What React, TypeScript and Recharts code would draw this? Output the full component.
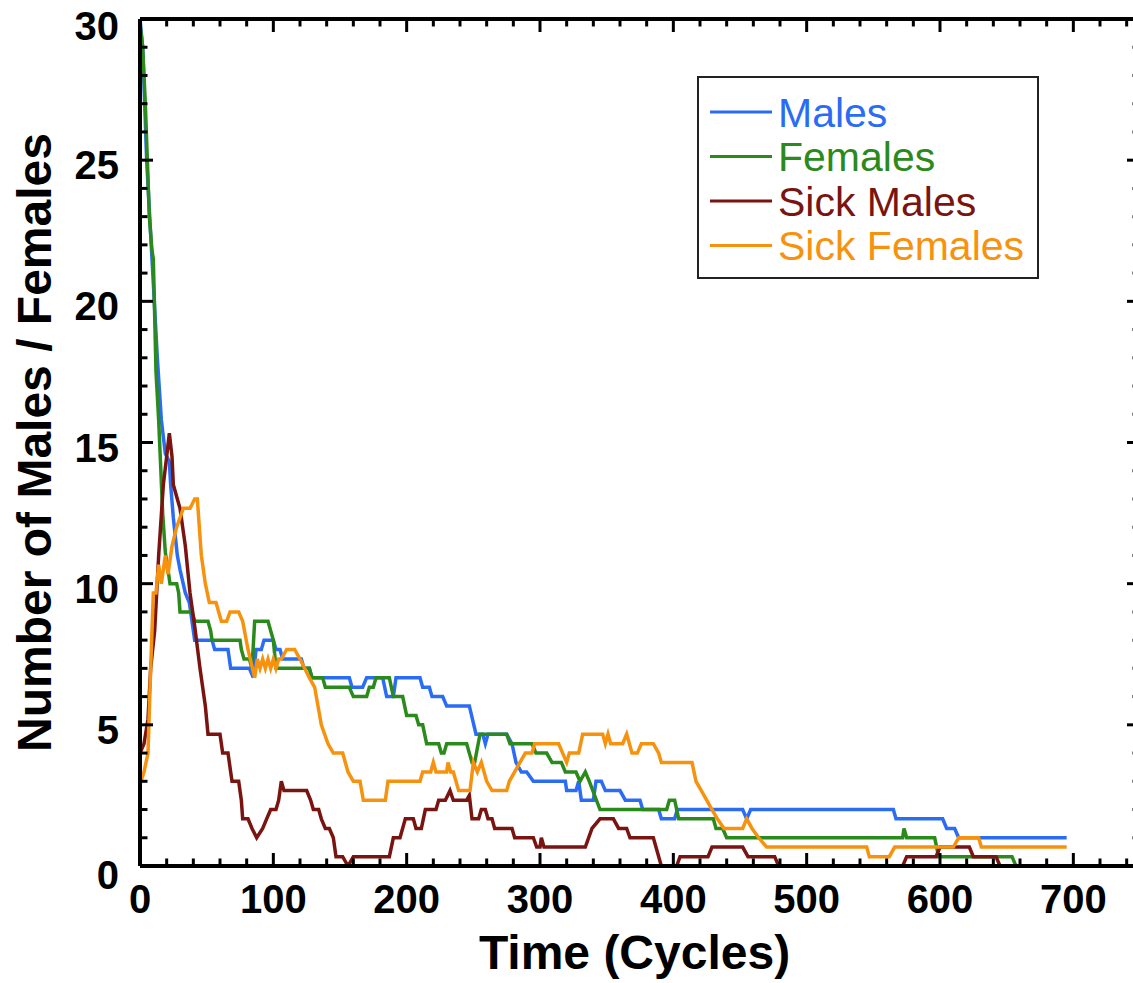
import React from 'react';
import { LineChart, Line, XAxis, YAxis, Legend, Label } from 'recharts';

const FONT = '"Liberation Sans", Arial, Helvetica, sans-serif';

const xTicks = [0, 20, 40, 60, 80, 100, 120, 140, 160, 180, 200, 220, 240, 260, 280, 300, 320, 340, 360, 380, 400, 420, 440, 460, 480, 500, 520, 540, 560, 580, 600, 620, 640, 660, 680, 700, 720, 740];
const xLabels = [0, 100, 200, 300, 400, 500, 600, 700];
const yTicks = [0, 1, 2, 3, 4, 5, 6, 7, 8, 9, 10, 11, 12, 13, 14, 15, 16, 17, 18, 19, 20, 21, 22, 23, 24, 25, 26, 27, 28, 29, 30];
const yLabels = [0, 5, 10, 15, 20, 25, 30];

type Pt = [number, number];

const males: Pt[] = [
  [0, 30], [2, 29], [5, 25], [9, 21.5], [13, 18], [16, 15.8], [19, 14.6], [22, 14.33], [23, 13.5], [25, 12.33], [28, 11], [30, 10.5], [34, 9.67], [37, 9.33], [40, 8.33], [41, 8], [54, 8], [56, 7.67], [66, 7.67], [68, 7], [82, 7], [85, 6.67], [87, 7.67], [91, 7.67], [93, 8], [100, 8], [102, 7.67], [105, 7.67], [107, 7.33], [121, 7.33], [123, 7], [127, 7], [129, 6.67], [157, 6.67], [159, 6.33], [167, 6.33], [170, 6.67], [182, 6.67], [185, 6], [190, 6], [192, 6.67], [210, 6.67], [212, 6.33], [217, 6.33], [219, 6], [227, 6], [230, 5.67], [247, 5.67], [252, 4.67], [257, 4.67], [259, 4.33], [261, 4.67], [275, 4.67], [279, 4.33], [282, 3.67], [286, 3.33], [290, 3.33], [295, 3], [319, 3], [320, 2.67], [327, 2.67], [329, 3], [331, 2.33], [340, 2.33], [342, 3], [346, 3], [349, 2.67], [360, 2.67], [364, 2.33], [375, 2.33], [377, 2], [389, 2], [391, 1.67], [401, 1.67], [403, 2], [452, 2], [455, 1.67], [458, 2], [565, 2], [567, 1.67], [602, 1.67], [605, 1.33], [611, 1.33], [614, 1], [695, 1],
];

const females: Pt[] = [
  [0, 29.8], [2, 29], [4, 27], [7, 23], [9, 21.8], [10, 21.5], [12, 17.5], [14, 15.8], [17, 12.5], [19, 11.1], [21, 10.5], [22.5, 10], [27.5, 10], [29, 9.67], [30, 9], [39, 9], [41, 8.67], [51, 8.67], [53, 8.33], [54, 8], [75, 8], [76, 7.67], [78, 7.33], [82, 7.33], [84, 7], [86, 8.67], [96, 8.67], [98, 8.33], [100, 8], [102, 7], [127, 7], [129, 6.67], [137, 6.67], [139, 6.33], [157, 6.33], [160, 6], [170, 6], [172, 6.33], [175, 6.33], [177, 6.67], [187, 6.67], [190, 6], [197, 6], [200, 5.33], [207, 5.33], [209, 5], [212, 5], [215, 4.33], [224, 4.33], [226, 4], [228, 4], [230, 4.33], [245, 4.33], [249, 3.67], [251, 3.67], [255, 4.67], [275, 4.67], [277.5, 4.33], [294, 4.33], [297, 4], [305, 4], [309, 3.67], [316, 3.67], [319, 3.33], [327, 3.33], [330, 3], [334, 3.33], [337, 3], [345, 2], [395, 2], [397, 2.33], [401, 2.33], [404, 1.67], [430, 1.67], [432, 1.33], [437, 1.33], [440, 1], [572, 1], [573, 1.33], [575, 1], [596, 1], [599, 0.33], [654, 0.33], [657, 0],
];

const sickMales: Pt[] = [
  [0, 4], [3, 4.33], [6, 5.2], [8, 7], [11, 8.33], [14, 11], [17.5, 13.5], [20, 14.5], [22, 15.33], [24, 14.5], [25, 13.5], [28, 13], [30, 12.67], [34, 11.33], [37.5, 9.67], [41, 8.5], [45, 7], [49, 5.67], [51, 4.67], [60, 4.67], [62, 4], [66, 4], [68, 3.33], [69, 3], [74, 3], [76, 2.33], [77, 1.67], [81, 1.67], [84, 1.33], [87.5, 1], [92, 1.33], [95, 1.67], [98, 2], [102, 2], [104, 2.33], [106, 3], [108, 2.67], [125, 2.67], [128, 2.33], [130, 2], [134, 2], [136, 1.67], [139, 1.33], [142, 1.33], [145, 1], [147, 0.33], [152, 0.33], [156, 0], [160, 0.33], [187, 0.33], [190, 1], [195, 1], [199, 1.67], [205, 1.67], [207, 1.33], [211, 1.33], [214, 2], [222, 2], [224, 2.33], [229, 2.33], [232.5, 2.67], [235, 2.33], [245, 2.33], [247, 2.5], [249, 1.67], [254, 1.67], [256, 2], [259, 2], [261, 1.67], [264, 1.67], [266, 1.33], [279, 1.33], [281, 1], [295, 1], [297.5, 0.67], [300, 0.67], [301, 1], [303, 0.67], [334, 0.67], [339, 1.33], [345, 1.67], [355, 1.67], [359, 1.33], [365, 1.33], [367.5, 1], [385, 1], [391, 0], [402.5, 0], [405, 0.33], [426, 0.33], [429, 0.67], [452, 0.67], [456, 0.33], [476, 0.33], [479, 0], [572, 0], [575, 0.33], [597, 0.33], [600, 0.67], [622, 0.67], [625, 0.33], [642, 0.33], [645, 0],
];

const sickFemales: Pt[] = [
  [0, 2.9], [3, 3.33], [6, 4], [8, 7], [10, 9.67], [12, 9.67], [14, 10.67], [16, 10], [19, 11], [21, 10.33], [24, 11.33], [27.5, 12], [32.5, 12.67], [37.5, 12.67], [41, 13], [43, 13], [46, 11], [49, 10], [52, 9.33], [57, 9.33], [61, 8.67], [65, 8.67], [67.5, 9], [74, 9], [77, 8.67], [81, 7.67], [86, 6.67], [88, 7.33], [90, 7], [92, 7.33], [94, 7], [96, 7.33], [98, 7], [100, 7.33], [102, 7], [104, 7.33], [106, 7.33], [110, 7.67], [116, 7.67], [120, 7.33], [127, 6.67], [131, 6.33], [136, 5], [141, 4.33], [145, 4], [152, 4], [156, 3.33], [160, 3], [165, 3], [167.5, 2.33], [184, 2.33], [186, 3], [210, 3], [212, 3.33], [218, 3.33], [220, 3.67], [222, 3.33], [230, 3.33], [231, 3.67], [233, 3.33], [235, 3.33], [239, 2.67], [247.5, 2.67], [250, 3.67], [253, 3.33], [256, 3.67], [260, 3], [264, 2.67], [275, 2.67], [277, 3], [281, 3.33], [285, 3.67], [289, 4], [294, 4], [296, 4.33], [314, 4.33], [317, 4], [320, 3.67], [322, 4], [329, 4], [332, 4.67], [347, 4.67], [349, 4.33], [351, 4.67], [353, 4.33], [362, 4.33], [365, 4.67], [369, 4], [373, 4], [376, 4.33], [385, 4.33], [389, 4], [391, 3.67], [414, 3.67], [417, 3], [421, 2.67], [425, 2.33], [429, 2], [433, 1.67], [438, 1.33], [452, 1.33], [455, 1.67], [459, 1.33], [464, 1], [470, 0.67], [545, 0.67], [547, 0.33], [562, 0.33], [566, 0.67], [610, 0.67], [614, 1], [629, 1], [631, 0.67], [695, 0.67],
];

const seriesNames = ['Males', 'Females', 'Sick Males', 'Sick Females'];
const seriesColors = ['#2a6df4', '#2b8a1c', '#7a1410', '#f7920e'];
const seriesPoints = [males, females, sickMales, sickFemales];

const series = seriesNames.map((name, i) => ({
  name,
  color: seriesColors[i],
  data: seriesPoints[i].map(([t, v]) => ({ t, v })),
}));

const MAJOR = 13;
const MINOR = 7.5;

const BottomTick = (props: any) => {
  const { x, y, payload } = props;
  const v = payload.value;
  const major = xLabels.includes(v);
  return (
    <g>
      <line x1={x} x2={x} y1={y} y2={y - (major ? MAJOR : MINOR)} stroke="#000" strokeWidth={3} />
      {major && (
        <text x={x} y={y + 47} textAnchor="middle" fontFamily={FONT} fontWeight="bold" fontSize={40} fill="#000">
          {v}
        </text>
      )}
    </g>
  );
};

const TopTick = (props: any) => {
  const { x, y, payload } = props;
  const major = xLabels.includes(payload.value);
  return <line x1={x} x2={x} y1={y} y2={y + (major ? MAJOR : MINOR)} stroke="#000" strokeWidth={3} />;
};

const LeftTick = (props: any) => {
  const { x, y, payload } = props;
  const v = payload.value;
  const major = yLabels.includes(v);
  const dy = v === 0 ? 23 : v === 30 ? 21 : 19;
  return (
    <g>
      <line x1={x} x2={x + (major ? MAJOR : MINOR)} y1={y} y2={y} stroke="#000" strokeWidth={3} />
      {major && (
        <text x={x - 21} y={y + dy} textAnchor="end" fontFamily={FONT} fontWeight="bold" fontSize={40} fill="#000">
          {v}
        </text>
      )}
    </g>
  );
};

const RightTick = (props: any) => {
  const { x, y, payload } = props;
  const major = yLabels.includes(payload.value);
  return <line x1={x} x2={x - (major ? MAJOR : MINOR)} y1={y} y2={y} stroke="#000" strokeWidth={3} />;
};

const renderLegend = () => (
  <svg width={342} height={203} style={{ display: 'block' }}>
    <rect x={1} y={1} width={340} height={201} fill="#fff" stroke="#222" strokeWidth={2} />
    {series.map((s, i) => {
      const cy = 36 + i * 44.5;
      return (
        <g key={s.name}>
          <line x1={13} x2={75} y1={cy} y2={cy} stroke={s.color} strokeWidth={3} />
          <text x={81} y={cy + 14.5} fill={s.color} fontSize={41} fontFamily={FONT}>
            {s.name}
          </text>
        </g>
      );
    })}
  </svg>
);

const XTitle = (props: any) => {
  const vb = props.viewBox || { x: 140, y: 866, width: 1000 };
  return (
    <text x={vb.x + 494.5} y={vb.y + 103} textAnchor="middle" fontFamily={FONT} fontWeight="bold" fontSize={48} fill="#000">
      Time (Cycles)
    </text>
  );
};

const YTitle = (props: any) => {
  const vb = props.viewBox || { x: 0, y: 19, height: 847 };
  const cx = vb.x + 51;
  const cy = vb.y + vb.height / 2;
  return (
    <text x={cx} y={cy} transform={`rotate(-90 ${cx} ${cy})`} textAnchor="middle" fontFamily={FONT} fontWeight="bold" fontSize={48} fill="#000">
      Number of Males / Females
    </text>
  );
};

export default function App() {
  return (
    <div style={{ position: 'absolute', left: 0, top: 0, width: 1133, height: 983, overflow: 'hidden', background: '#fff' }}>
      <LineChart width={1141} height={983} margin={{ top: 18, right: 0, bottom: 0, left: 0 }}>
        <XAxis
          dataKey="t"
          type="number"
          domain={[0, 750]}
          ticks={xTicks}
          interval={0}
          allowDataOverflow
          height={117}
          tickSize={0}
          tickMargin={0}
          tickLine={false}
          axisLine={{ stroke: '#000', strokeWidth: 4 }}
          tick={<BottomTick />}
        >
          <Label content={<XTitle />} />
        </XAxis>
        <XAxis
          xAxisId="top"
          orientation="top"
          dataKey="t"
          type="number"
          domain={[0, 750]}
          ticks={xTicks}
          interval={0}
          allowDataOverflow
          height={1}
          tickSize={0}
          tickMargin={0}
          tickLine={false}
          axisLine={{ stroke: '#000', strokeWidth: 4 }}
          tick={<TopTick />}
        />
        <YAxis
          type="number"
          domain={[0, 30]}
          ticks={yTicks}
          interval={0}
          allowDataOverflow
          width={140}
          tickSize={0}
          tickMargin={0}
          tickLine={false}
          axisLine={{ stroke: '#000', strokeWidth: 4 }}
          tick={<LeftTick />}
        >
          <Label content={<YTitle />} />
        </YAxis>
        <YAxis
          yAxisId="right"
          orientation="right"
          type="number"
          domain={[0, 30]}
          ticks={yTicks}
          interval={0}
          allowDataOverflow
          width={1}
          tickSize={0}
          tickMargin={0}
          tickLine={false}
          axisLine={{ stroke: '#000', strokeWidth: 4 }}
          tick={<RightTick />}
        />
        <Legend
          layout="vertical"
          align="center"
          verticalAlign="middle"
          content={renderLegend}
          wrapperStyle={{ position: 'absolute', left: 697, top: 76, width: 342, height: 203 }}
        />
        {series.map((s) => (
          <Line
            key={s.name}
            name={s.name}
            data={s.data}
            dataKey="v"
            type="linear"
            stroke={s.color}
            strokeWidth={3.5}
            strokeLinejoin="miter"
            dot={false}
            activeDot={false}
            isAnimationActive={false}
          />
        ))}
      </LineChart>
    </div>
  );
}
